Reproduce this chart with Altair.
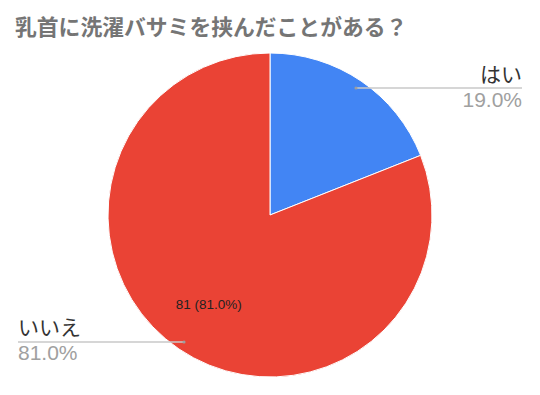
import altair as alt
import pandas as pd

title_text = "乳首に洗濯バサミを挟んだことがある？"
labels = ["はい", "いいえ"]
values = [19, 81]
pct_labels = ["19.0%", "81.0%"]
inner_labels = ["", "81 (81.0%)"]
colors = ["#4285f4", "#ea4335"]

df = pd.DataFrame({"label": labels, "value": values, "pct": pct_labels, "inner": inner_labels})

CX, CY, R = 262, 207, 162
FONT = "Noto Sans CJK JP"
LAT = "Liberation Sans"

base = alt.Chart(df)

pie = base.mark_arc(stroke="white", strokeWidth=1).encode(
    theta=alt.Theta("value:Q", stack=True),
    color=alt.Color("label:N", scale=alt.Scale(domain=labels, range=colors), legend=None),
    order=alt.Order("order:Q"),
    x=alt.value(CX), y=alt.value(CY), radius=alt.value(R),
).transform_calculate(order="datum.label == 'はい' ? 0 : 1")

inner = base.mark_text(font=LAT, fontSize=13.5, color="#222222").encode(
    theta=alt.Theta("value:Q", stack=True),
    order=alt.Order("order:Q"),
    text="inner:N",
    x=alt.value(CX), y=alt.value(CY), radius=alt.value(109),
).transform_calculate(order="datum.label == 'はい' ? 0 : 1")

title = alt.Chart(pd.DataFrame({"t": [title_text]})).mark_text(
    font=FONT, fontSize=21.8, fontWeight="bold", color="#757575", align="left", baseline="alphabetic"
).encode(text="t:N", x=alt.value(7), y=alt.value(27))

# leader lines
line_df = pd.DataFrame({"label": labels, "x1": [348, 10], "x2": [514, 176], "y": [80, 334]})
lines = alt.Chart(line_df).mark_rule(color="#c8c8c8", strokeWidth=1.5).encode(
    x=alt.X("x1:Q", scale=None), x2="x2:Q", y=alt.Y("y:Q", scale=None)
)
dots = alt.Chart(line_df).mark_circle(color="#9e9e9e", size=10, opacity=1).encode(
    x=alt.X("px:Q", scale=None), y=alt.Y("y:Q", scale=None)
).transform_calculate(px="datum.label == 'はい' ? datum.x1 : datum.x2")

lab_df = pd.DataFrame({"label": labels, "pct": pct_labels,
                       "x": [514, 10], "y": [74, 327], "py": [99, 352]})
right = lab_df[lab_df.label == "はい"]
left = lab_df[lab_df.label == "いいえ"]
name_r = alt.Chart(right).mark_text(
    font=FONT, fontSize=21, color="#333333", align="right", baseline="alphabetic"
).encode(text="label:N", x=alt.X("x:Q", scale=None), y=alt.Y("y:Q", scale=None))
pct_r = alt.Chart(right).mark_text(
    font=LAT, fontSize=21, color="#a0a0a0", align="right", baseline="alphabetic"
).encode(text="pct:N", x=alt.X("x:Q", scale=None), y=alt.Y("py:Q", scale=None))
name_l = alt.Chart(left).mark_text(
    font=FONT, fontSize=21, color="#333333", align="left", baseline="alphabetic"
).encode(text="label:N", x=alt.X("x:Q", scale=None), y=alt.Y("y:Q", scale=None))
pct_l = alt.Chart(left).mark_text(
    font=LAT, fontSize=21, color="#a0a0a0", align="left", baseline="alphabetic"
).encode(text="pct:N", x=alt.X("x:Q", scale=None), y=alt.Y("py:Q", scale=None))

chart = alt.layer(pie, inner, lines, dots, name_r, pct_r, name_l, pct_l, title).properties(
    width=520, height=375, padding=0, autosize=alt.AutoSizeParams(type="none"),
    background="white"
).configure_view(stroke=None)

chart.save("out.html", embed_options={"renderer": "svg", "actions": False})
